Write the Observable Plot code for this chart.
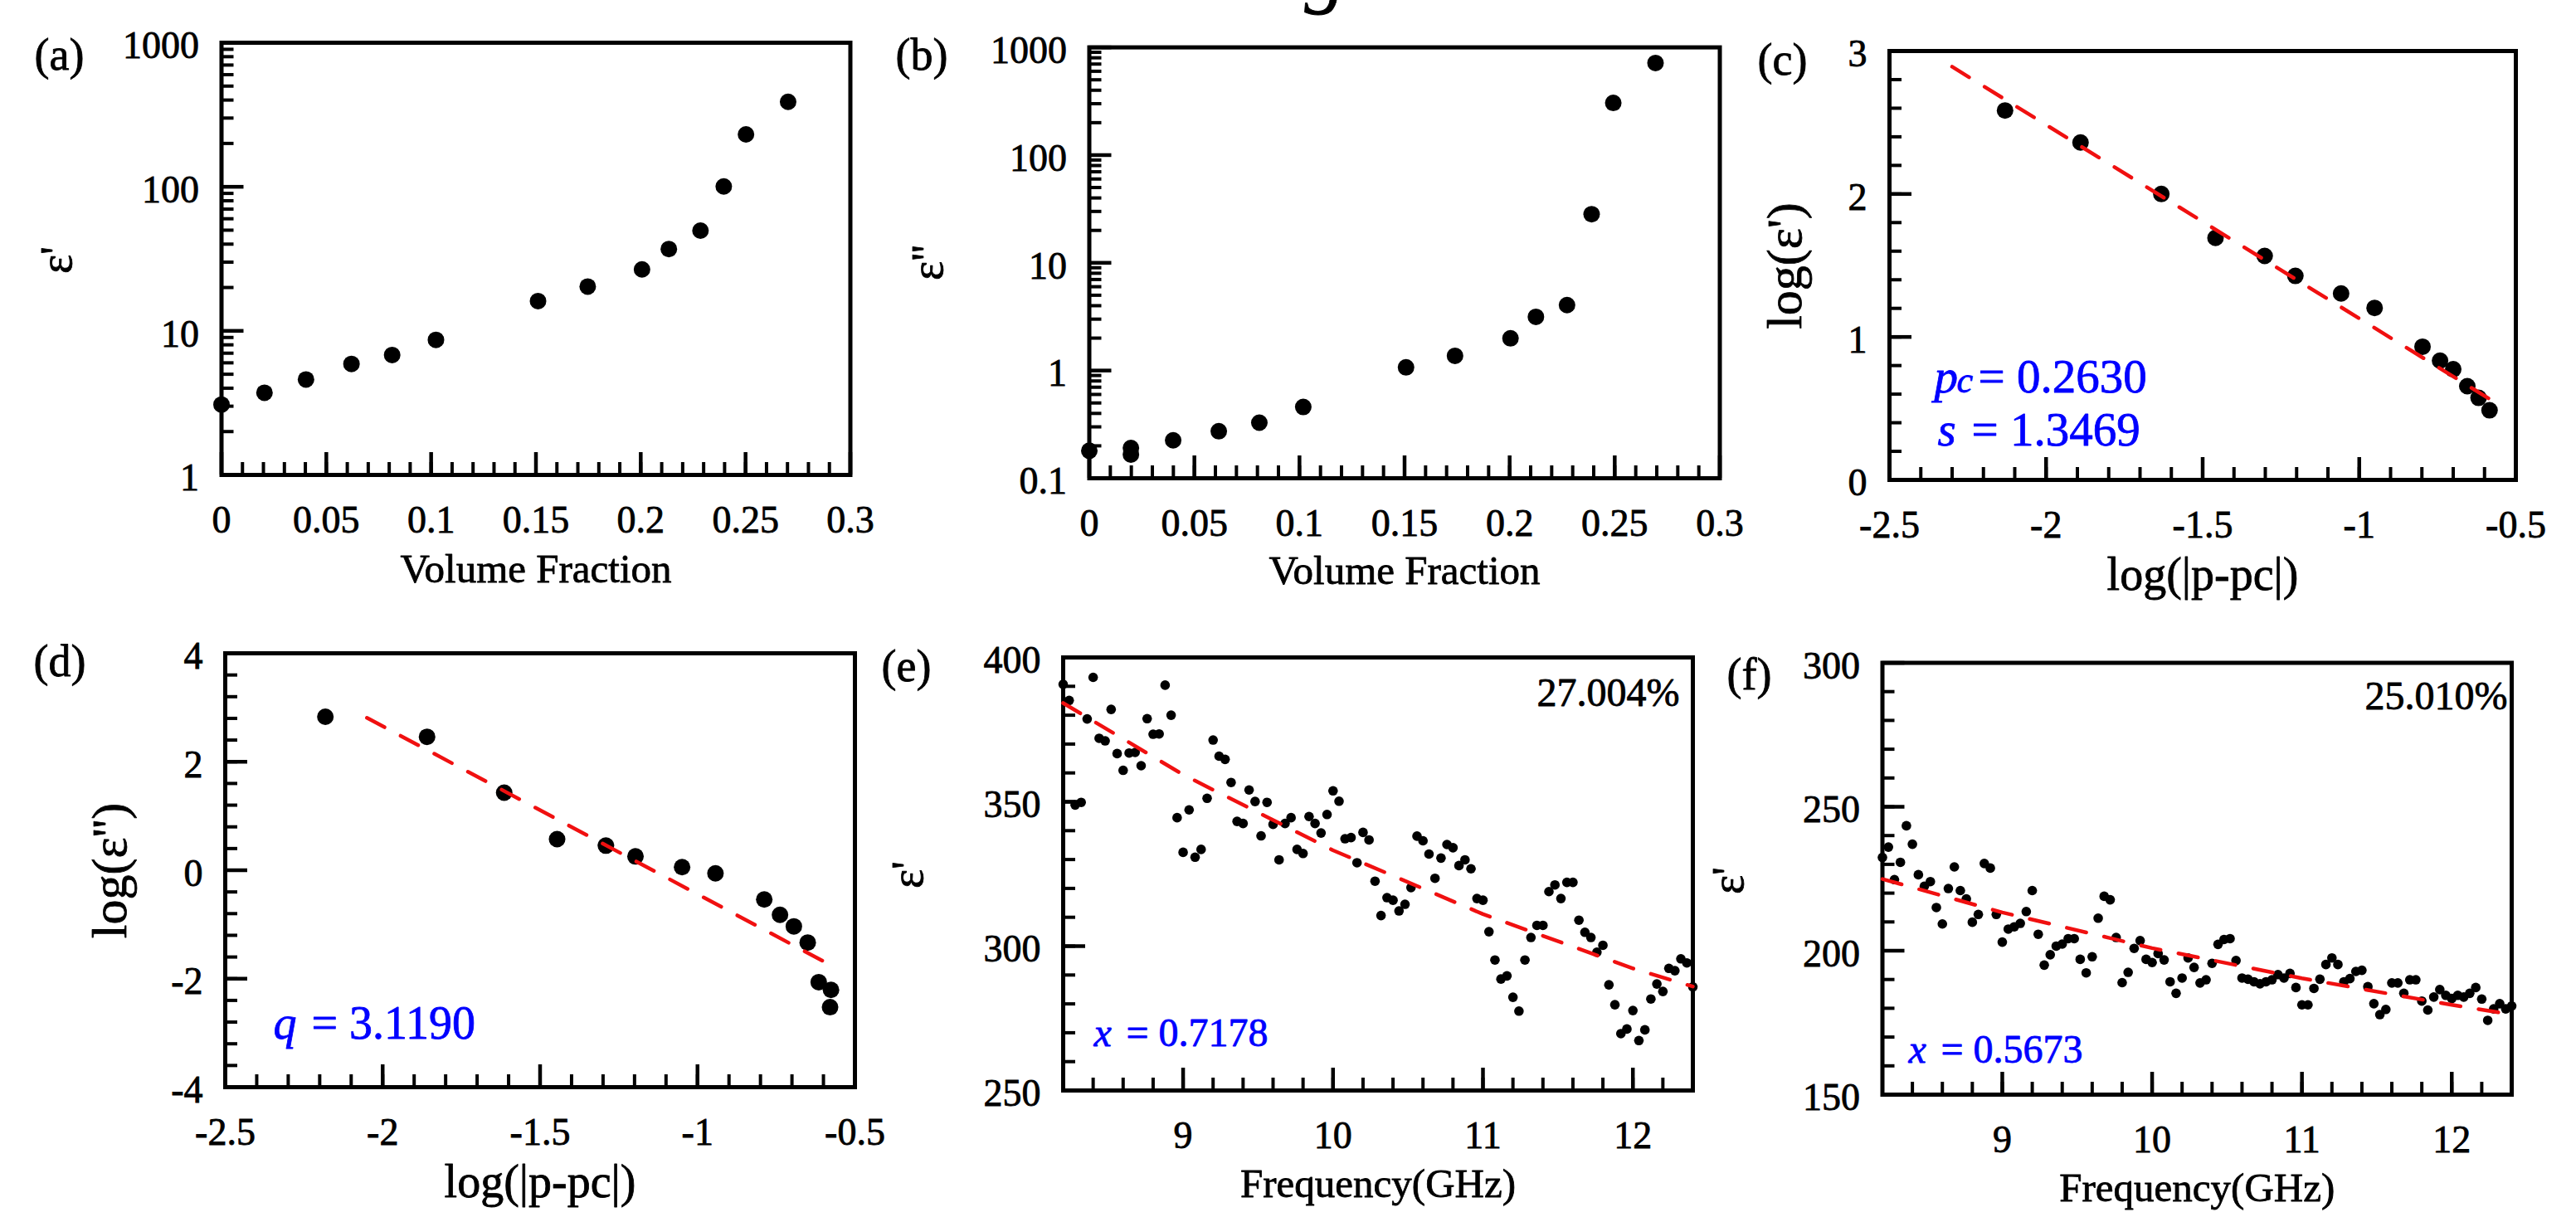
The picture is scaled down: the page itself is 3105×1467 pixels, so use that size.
<!DOCTYPE html>
<html><head><meta charset="utf-8">
<script src="https://cdn.jsdelivr.net/npm/d3@7"></script>
<script src="https://cdn.jsdelivr.net/npm/@observablehq/plot@0.6"></script>
<style>
html,body{margin:0;padding:0;background:#fff;}
#page{position:relative;width:3105px;height:1467px;overflow:hidden;background:#fff;}
#page svg{position:absolute;overflow:visible;max-width:none;}
</style></head><body><div id="page"></div>
<script>
// ---------- DATA ----------
// (a) real permittivity vs volume fraction
const volA = [0, 0.0205, 0.0403, 0.062, 0.0814, 0.1023, 0.151, 0.1747, 0.2006, 0.2134, 0.2285, 0.2396, 0.2502, 0.2703];
const epsA = [3.08, 3.72, 4.6, 5.9, 6.8, 8.66, 16.1, 20.3, 26.7, 37, 49.6, 100.6, 231, 389];
// (b) imaginary permittivity vs volume fraction
const volB = [0, 0.0198, 0.0198, 0.0399, 0.0616, 0.0809, 0.1018, 0.1507, 0.174, 0.2004, 0.2125, 0.2273, 0.239, 0.2493, 0.2694];
const epsB = [0.18, 0.191, 0.166, 0.225, 0.273, 0.328, 0.459, 1.07, 1.37, 1.99, 3.15, 4.05, 28.3, 305, 716];
// (c) log-log percolation fit for eps'
const logPC = [-2.131, -1.890, -1.632, -1.459, -1.302, -1.204, -1.058, -0.951, -0.798, -0.742, -0.700, -0.655, -0.619, -0.584];
const logEpsC = [2.584, 2.360, 2.0, 1.693, 1.567, 1.427, 1.304, 1.203, 0.932, 0.834, 0.774, 0.656, 0.574, 0.487];
const fitCx = [-2.30, -0.584];
const fitCy = [2.89, 0.566];
// (d) log-log percolation fit for eps''
const logPD = [-2.182, -1.859, -1.614, -1.446, -1.291, -1.197, -1.049, -0.943, -0.788, -0.738, -0.694, -0.650, -0.615, -0.576, -0.579];
const logEpsD = [2.83, 2.46, 1.43, 0.574, 0.454, 0.255, 0.057, -0.057, -0.539, -0.823, -1.035, -1.333, -2.064, -2.206, -2.525];
const fitDx = [-2.05, -0.572];
const fitDy = [2.81, -1.766];
// (e),(f) frequency sweeps (GHz)
const freq = [
  8.20,8.24,8.28,8.32,8.36,8.40,8.44,8.48,8.52,8.56,
  8.60,8.64,8.68,8.72,8.76,8.80,8.84,8.88,8.92,8.96,
  9.00,9.04,9.08,9.12,9.16,9.20,9.24,9.28,9.32,9.36,
  9.40,9.44,9.48,9.52,9.56,9.60,9.64,9.68,9.72,9.76,
  9.80,9.84,9.88,9.92,9.96,10.00,10.04,10.08,10.12,10.16,
  10.20,10.24,10.28,10.32,10.36,10.40,10.44,10.48,10.52,10.56,
  10.60,10.64,10.68,10.72,10.76,10.80,10.84,10.88,10.92,10.96,
  11.00,11.04,11.08,11.12,11.16,11.20,11.24,11.28,11.32,11.36,
  11.40,11.44,11.48,11.52,11.56,11.60,11.64,11.68,11.72,11.76,
  11.80,11.84,11.88,11.92,11.96,12.00,12.04,12.08,12.12,12.16,
  12.20,12.24,12.28,12.32,12.36,12.40];
const epsE = [
  390.7,385.1,348.9,349.8,378.7,393.1,372.0,371.1,382.0,366.7,
  360.9,366.9,367.1,362.5,378.8,373.4,373.5,390.4,380.0,344.5,
  332.5,347.2,330.8,333.5,351.2,371.4,365.8,364.7,356.7,343.2,
  342.5,354.1,350.1,338.2,349.8,342.2,329.9,342.5,344.5,333.5,
  332.1,344.9,342.5,339.2,345.6,353.8,350.2,337.2,337.6,328.9,
  339.4,336.8,322.5,310.6,316.8,315.9,312.2,314.5,320.3,338.1,
  336.5,331.9,323.5,330.5,335.2,334.1,327.9,329.9,326.8,316.5,
  315.9,305.0,295.2,288.6,289.7,282.3,277.5,295.2,303.0,307.2,
  307.2,318.9,321.2,316.5,322.1,322.1,309.0,304.8,303.0,297.9,
  300.3,286.6,279.7,269.7,271.3,277.7,267.3,271.0,281.7,286.9,
  284.3,292.3,291.5,295.6,294.2,285.9];
const fitEx = [8.2, 9, 10, 11, 12, 12.4];
const fitEy = [384.2, 359.4, 333.2, 311.1, 292.3, 286.0];
const epsF = [
  232.4,236.0,224.7,230.7,243.4,237.0,226.4,222.4,224.0,215.0,
  209.3,221.6,229.1,220.9,218.0,209.9,212.6,230.3,228.7,212.6,
  203.0,207.5,208.3,209.5,213.6,220.9,205.7,195.0,198.6,201.6,
  202.3,204.2,204.2,197.0,192.3,197.9,211.3,218.9,217.7,204.6,
  188.9,192.5,200.8,203.5,197.0,195.9,199.0,196.8,189.2,185.2,
  190.5,197.5,194.2,188.8,189.9,195.6,202.2,203.9,204.2,196.6,
  190.5,190.1,189.2,188.5,189.2,189.9,191.7,190.5,192.1,187.2,
  181.2,181.2,186.9,190.1,195.2,197.5,195.2,189.2,190.3,192.8,
  193.2,187.5,181.6,177.8,179.6,188.8,188.8,185.2,189.9,189.9,
  182.5,179.4,183.9,186.5,184.5,183.4,184.5,183.9,185.2,187.2,
  183.2,175.8,179.8,181.6,179.8,180.8];
const fitFx = [8.2, 9, 10, 11, 12, 12.32];
const fitFy = [224.9, 213.3, 200.9, 190.4, 181.2, 178.5];

// tick labels
const ticksVol = [0, 0.05, 0.1, 0.15, 0.2, 0.25, 0.3];
const ticksA = [1, 10, 100, 1000];
const ticksB = [0.1, 1, 10, 100, 1000];
const ticksLogP = [-2.5, -2, -1.5, -1, -0.5];
const ticksC = [0, 1, 2, 3];
const ticksD = [-4, -2, 0, 2, 4];
const ticksFreq = [9, 10, 11, 12];
const ticksE = [250, 300, 350, 400];
const ticksF = [150, 200, 250, 300];

// ---------- HELPERS ----------
const page = document.getElementById("page");
const SERIF = "'Liberation Serif','Times New Roman',Times,serif";
const zip = (xs, ys) => xs.map((x, i) => ({x, y: ys[i]}));
const logMinor = (lo, hi) => { const t = []; for (let e = lo; e < hi; e++) for (let m = 2; m <= 9; m++) t.push(m * Math.pow(10, e)); return t; };
const linMinor = (a, b, s) => d3.range(a, b + s / 2, s);

function panel(p) {
  const W = p.box.w, H = p.box.h, F = p.frame;
  const ml = F.L - p.box.x, mr = p.box.x + W - F.R, mt = F.T - p.box.y, mb = p.box.y + H - F.B;
  const pw = F.R - F.L, ph = F.B - F.T;
  const fmt = d => String(d);
  const textMarks = p.texts.map(t => Plot.text([t.s], {
    text: d => d, frameAnchor: "top-left", dx: t.x - F.L, dy: t.y - F.T,
    lineAnchor: "bottom", textAnchor: t.anchor || "start", fontSize: t.size,
    fontStyle: t.italic ? "italic" : "normal", fill: t.fill || "black",
    stroke: t.fill || "black", strokeWidth: 0.8, rotate: t.rotate || 0
  }));
  const svg = Plot.plot({
    width: W, height: H, marginLeft: ml, marginRight: mr, marginTop: mt, marginBottom: mb,
    x: p.x, y: p.y,
    style: {fontFamily: SERIF, fontSize: "46px", background: "transparent", color: "black", overflow: "visible", maxWidth: "none"},
    marks: [
      Plot.tickX(p.xMinor, {x: d => d, insetTop: ph - 15, stroke: "black", strokeWidth: 4}),
      Plot.tickX(p.xMajor, {x: d => d, insetTop: ph - 27, stroke: "black", strokeWidth: 4.5}),
      Plot.tickY(p.yMinor, {y: d => d, insetRight: pw - 15, stroke: "black", strokeWidth: 4}),
      Plot.tickY(p.yMajor, {y: d => d, insetRight: pw - 27, stroke: "black", strokeWidth: 4.5}),
      Plot.axisX({ticks: p.xMajor, tickSize: 0, tickPadding: 37, tickFormat: fmt, label: null, fill: "black"}),
      Plot.axisY({ticks: p.yMajor, tickSize: 0, tickPadding: 27, tickFormat: fmt, label: null, dy: 4, fill: "black"}),
      Plot.frame({stroke: "black", strokeWidth: 5}),
      ...p.marks,
      ...textMarks
    ]
  });
  // slightly heavier tick labels, like the reference print
  d3.select(svg).selectAll("g[aria-label='x-axis tick label'], g[aria-label='y-axis tick label']")
    .attr("stroke", "black").attr("stroke-width", 0.8);
  svg.style.left = p.box.x + "px";
  svg.style.top = p.box.y + "px";
  page.appendChild(svg);
}

const dotsBig = rows => Plot.dot(rows, {x: "x", y: "y", r: 10, fill: "black", stroke: "none"});
const dotsSmall = rows => Plot.dot(rows, {x: "x", y: "y", r: 5.8, fill: "black", stroke: "none"});
const fit = rows => Plot.line(rows, {x: "x", y: "y", stroke: "#f01010", strokeWidth: 4.5, strokeDasharray: "24,22"});

// ---------- PANELS ----------
panel({
  box: {x: 0, y: 0, w: 1040, h: 735}, frame: {L: 266.5, R: 1024.5, T: 51, B: 572},
  x: {domain: [0, 0.3]}, y: {type: "log", domain: [1, 1000]},
  xMajor: ticksVol, xMinor: linMinor(0, 0.3, 0.01), yMajor: ticksA, yMinor: logMinor(0, 3),
  marks: [dotsBig(zip(volA, epsA))],
  texts: [
    {s: "(a)", x: 41, y: 83, size: 54},
    {s: "ε'", x: 85, y: 313, size: 55, anchor: "middle", rotate: -90},
    {s: "Volume Fraction", x: 645.5, y: 701, size: 49, anchor: "middle"}
  ]
});

panel({
  box: {x: 1040, y: 0, w: 1045, h: 735}, frame: {L: 1312.5, R: 2072.5, T: 56.6, B: 576},
  x: {domain: [0, 0.3]}, y: {type: "log", domain: [0.1, 1000]},
  xMajor: ticksVol, xMinor: linMinor(0, 0.3, 0.01), yMajor: ticksB, yMinor: logMinor(-1, 3),
  marks: [dotsBig(zip(volB, epsB))],
  texts: [
    {s: "g", x: 1597, y: -4, size: 100, anchor: "middle", italic: true},
    {s: "(b)", x: 1079, y: 83, size: 54},
    {s: "ε''", x: 1135, y: 316, size: 55, anchor: "middle", rotate: -90},
    {s: "Volume Fraction", x: 1692.5, y: 703, size: 49, anchor: "middle"}
  ]
});

panel({
  box: {x: 2085, y: 0, w: 1020, h: 735}, frame: {L: 2277, R: 3032, T: 61, B: 578},
  x: {domain: [-2.5, -0.5]}, y: {domain: [0, 3]},
  xMajor: ticksLogP, xMinor: linMinor(-2.5, -0.5, 0.1), yMajor: ticksC, yMinor: linMinor(0, 3, 0.2),
  marks: [dotsBig(zip(logPC, logEpsC)), fit(zip(fitCx, fitCy))],
  texts: [
    {s: "(c)", x: 2118, y: 89, size: 54},
    {s: "log(ε')", x: 2170, y: 320, size: 60, anchor: "middle", rotate: -90},
    {s: "log(|p-pc|)", x: 2654.5, y: 710, size: 56, anchor: "middle"},
    {s: "p", x: 2331, y: 472, size: 57, italic: true, fill: "blue"},
    {s: "c", x: 2358, y: 472, size: 44, italic: true, fill: "blue"},
    {s: "= 0.2630", x: 2384, y: 472, size: 57, fill: "blue"},
    {s: "s", x: 2335, y: 536, size: 57, italic: true, fill: "blue"},
    {s: "= 1.3469", x: 2376, y: 536, size: 57, fill: "blue"}
  ]
});

panel({
  box: {x: 0, y: 735, w: 1045, h: 732}, frame: {L: 271, R: 1030, T: 787, B: 1310},
  x: {domain: [-2.5, -0.5]}, y: {domain: [-4, 4]},
  xMajor: ticksLogP, xMinor: linMinor(-2.5, -0.5, 0.1), yMajor: ticksD, yMinor: linMinor(-4, 4, 0.4),
  marks: [dotsBig(zip(logPD, logEpsD)), fit(zip(fitDx, fitDy))],
  texts: [
    {s: "(d)", x: 40, y: 814, size: 54},
    {s: "log(ε'')", x: 151, y: 1049, size: 60, anchor: "middle", rotate: -90},
    {s: "log(|p-pc|)", x: 650.5, y: 1442, size: 56, anchor: "middle"},
    {s: "q", x: 329, y: 1251, size: 56, italic: true, fill: "blue"},
    {s: "= 3.1190", x: 375, y: 1251, size: 56, fill: "blue"}
  ]
});

panel({
  box: {x: 1045, y: 735, w: 1010, h: 732}, frame: {L: 1281, R: 2040, T: 792, B: 1314},
  x: {domain: [8.2, 12.4]}, y: {domain: [250, 400]},
  xMajor: ticksFreq, xMinor: linMinor(8.2, 12.4, 0.2), yMajor: ticksE, yMinor: linMinor(250, 400, 10),
  marks: [dotsSmall(zip(freq, epsE)), fit(zip(fitEx, fitEy))],
  texts: [
    {s: "(e)", x: 1062, y: 820, size: 54},
    {s: "ε'", x: 1111, y: 1054, size: 55, anchor: "middle", rotate: -90},
    {s: "Frequency(GHz)", x: 1660.5, y: 1442, size: 49, anchor: "middle"},
    {s: "x", x: 1318, y: 1260, size: 48, italic: true, fill: "blue"},
    {s: "= 0.7178", x: 1357, y: 1260, size: 48, fill: "blue"},
    {s: "27.004%", x: 2024, y: 850, size: 48, anchor: "end"}
  ]
});

panel({
  box: {x: 2055, y: 735, w: 1050, h: 732}, frame: {L: 2268.5, R: 3027, T: 798.5, B: 1319},
  x: {domain: [8.2, 12.4]}, y: {domain: [150, 300]},
  xMajor: ticksFreq, xMinor: linMinor(8.2, 12.4, 0.2), yMajor: ticksF, yMinor: linMinor(150, 300, 10),
  marks: [dotsSmall(zip(freq, epsF)), fit(zip(fitFx, fitFy))],
  texts: [
    {s: "(f)", x: 2081, y: 830, size: 54},
    {s: "ε'", x: 2100, y: 1061, size: 55, anchor: "middle", rotate: -90},
    {s: "Frequency(GHz)", x: 2647.75, y: 1447, size: 49, anchor: "middle"},
    {s: "x", x: 2300, y: 1280, size: 48, italic: true, fill: "blue"},
    {s: "= 0.5673", x: 2339, y: 1280, size: 48, fill: "blue"},
    {s: "25.010%", x: 3022, y: 854, size: 48, anchor: "end"}
  ]
});
</script></body></html>
